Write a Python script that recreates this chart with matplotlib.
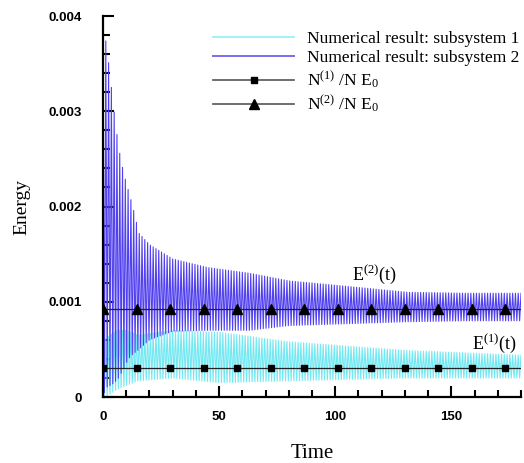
import numpy as np
import matplotlib
matplotlib.use('Agg')
import matplotlib.pyplot as plt
from matplotlib.lines import Line2D
from matplotlib.ticker import MultipleLocator
from matplotlib import rcParams

rcParams['font.family'] = 'Liberation Serif'
rcParams['mathtext.fontset'] = 'custom'
rcParams['mathtext.rm'] = 'Liberation Serif'
rcParams['mathtext.it'] = 'Liberation Serif:italic'
rcParams['mathtext.default'] = 'rm'

# envelope of the fast oscillation, subsystem 2 (upper / lower bounds)
t_env2 = [0, 1.3, 3, 4.9, 6.7, 8.9, 10.9, 12.8, 15.5, 20, 30, 45, 63, 80, 106, 131, 156, 180]
upper2 = [0.0036, 0.00375, 0.00338, 0.00297, 0.00262, 0.00235, 0.00217, 0.0020, 0.00172,
          0.0016, 0.00145, 0.00136, 0.0013, 0.00122, 0.00116, 0.0011, 0.00109, 0.00109]
lower2 = [0.0, 0.0001, 0.00012, 0.00015, 0.0002, 0.0003, 0.0004, 0.00045, 0.0005,
          0.0006, 0.00069, 0.0007, 0.0007, 0.00075, 0.00077, 0.00079, 0.0008, 0.0008]

# envelope of the fast oscillation, subsystem 1
t_env1 = [0, 1, 3, 6, 10, 15, 30, 50, 80, 130, 180]
upper1 = [0.0006, 0.0006, 0.00065, 0.0007, 0.0007, 0.00065, 0.0007, 0.00068, 0.00058, 0.00049, 0.00044]
lower1 = [0.0, 0.0, 0.00003, 0.00008, 0.00012, 0.00017, 0.0002, 0.00015, 0.00017, 0.0002, 0.0002]

osc_period = 1.2

# equilibrium levels N^(i)/N E0 and marker times
level1 = 0.0003
level2 = 0.00092
t_mark = [0, 14.44, 28.88, 43.32, 57.76, 72.2, 86.64, 101.08, 115.52, 129.96, 144.4, 158.84, 173.28]
t_line = [0, 180]

CYAN = '#72e8f2'
VIOLET = '#5040ee'


def zigzag(t_env, up, lo, period, t_end=180):
    # alternate between the upper and lower envelope every half period
    t = np.arange(0, t_end + 1e-9, period / 2)
    hi = np.interp(t, t_env, up)
    lw_ = np.interp(t, t_env, lo)
    y = np.where(np.arange(len(t)) % 2 == 0, hi, lw_)
    return t, y


fig = plt.figure(figsize=(5.24, 4.63), dpi=100)
ax = fig.add_axes([0.1966, 0.1425, 0.7977, 0.8229])

t1, y1 = zigzag(t_env1, upper1, lower1, osc_period)
t2, y2 = zigzag(t_env2, upper2, lower2, osc_period)

ax.plot(t1, y1, color=CYAN, lw=0.8)
ax.plot(t2, y2, color=VIOLET, lw=0.8)

ax.plot(t_line, [level1, level1], color='#222222', lw=0.9, zorder=4)
ax.plot(t_line, [level2, level2], color='#222222', lw=0.9, zorder=4)
ax.plot(t_mark, [level1] * len(t_mark), 's', color='black', ms=4.5, zorder=5)
ax.plot(t_mark, [level2] * len(t_mark), '^', color='black', ms=6.5, zorder=5)

ax.text(117, 0.00129, r'E$^{(2)}$(t)', fontsize=13, ha='center', va='center')
ax.text(168.5, 0.00056, r'E$^{(1)}$(t)', fontsize=13, ha='center', va='center')

ax.set_xlim(0, 180)
ax.set_ylim(0, 0.004)
ax.spines['top'].set_visible(False)
ax.spines['right'].set_visible(False)
for s in ('left', 'bottom'):
    ax.spines[s].set_linewidth(1.6)

ax.xaxis.set_major_locator(MultipleLocator(50))
ax.xaxis.set_minor_locator(MultipleLocator(10))
ax.set_yticks([0, 0.001, 0.002, 0.003, 0.004])
ax.set_yticklabels(['0', '0.001', '0.002', '0.003', '0.004'])
ax.yaxis.set_minor_locator(MultipleLocator(0.0002))
ax.tick_params(which='both', direction='in', width=1.5)
ax.tick_params(which='major', length=8)
ax.tick_params(which='minor', length=5)
ax.tick_params(axis='y', pad=15)
ax.tick_params(axis='x', pad=10)
for lab in ax.get_xticklabels() + ax.get_yticklabels():
    lab.set_fontfamily('Liberation Sans')
    lab.set_fontweight('bold')
    lab.set_fontsize(9.5)

ax.set_xlabel('Time', fontsize=15, labelpad=15)
ax.set_ylabel('Energy', fontsize=14, labelpad=13)

handles = [
    Line2D([], [], color='#9ff3f7', lw=1.4),
    Line2D([], [], color='#7b6cf3', lw=1.4),
    Line2D([], [], color='#555555', lw=1.2, marker='s', mfc='black', mec='black', ms=4.5),
    Line2D([], [], color='#555555', lw=1.2, marker='^', mfc='black', mec='black', ms=6.5),
]
labels = ['Numerical result: subsystem 1', 'Numerical result: subsystem 2',
          r'N$^{(1)}$ /N E$_0$', r'N$^{(2)}$ /N E$_0$']
ax.legend(handles, labels, loc='upper left', bbox_to_anchor=(0.243, 0.985), frameon=False,
          fontsize=12.6, handlelength=4.6, handletextpad=0.75, labelspacing=0.18,
          borderpad=0, numpoints=1)

fig.savefig('out.png', dpi=100)
